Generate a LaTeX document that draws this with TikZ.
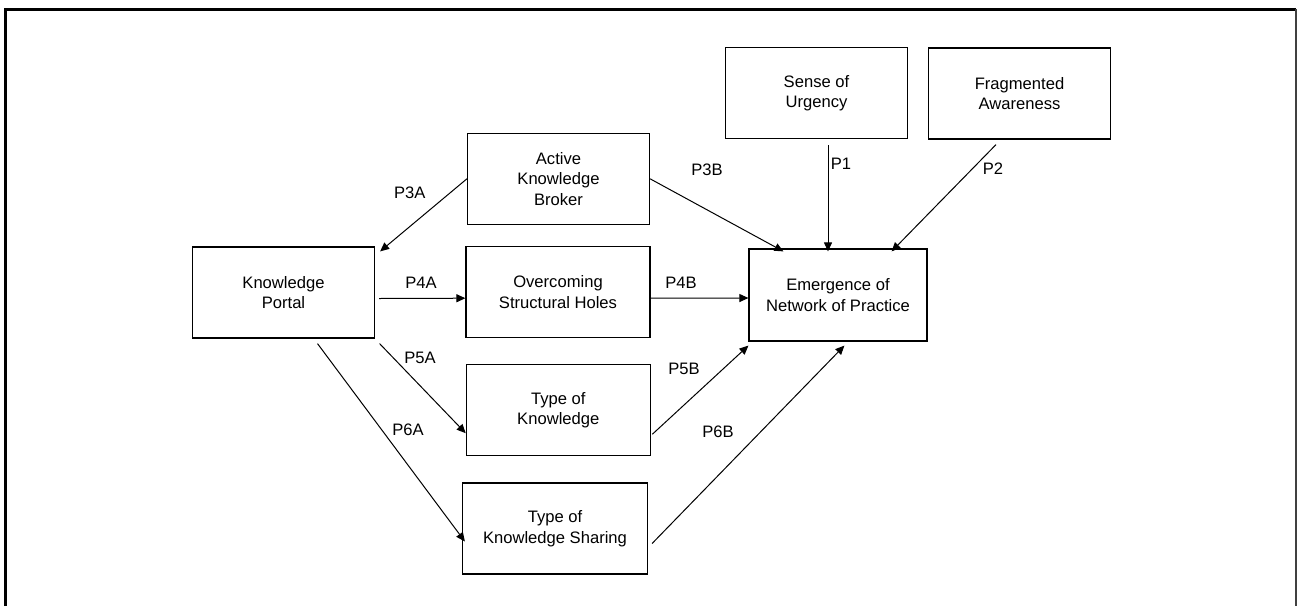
\documentclass[tikz,border=0pt]{standalone}
\usepackage{fontspec}
\setmainfont{Liberation Sans}
\usetikzlibrary{arrows.meta}

\begin{document}
\begin{tikzpicture}[x=0.5pt,y=-0.5pt,
		box/.style={draw, line width=0.6pt, minimum width=91pt, minimum height=45.5pt, align=center, inner sep=0pt, font=\fontsize{8.3}{10.3}\selectfont},
		arr/.style={-{Triangle[length=4.5pt,width=4pt]}, line width=0.5pt},
		plab/.style={font=\fontsize{8.3}{10}\selectfont, inner sep=0pt}]
		\useasboundingbox (0,0) rectangle (1297,606);
		%frame
		\draw[line width=1.8pt] (5.5,606) -- (5.5,9.3) -- (1296,9.3);
		\draw[line width=0.6pt, black!75] (1296,9.3) -- (1296,606);
		%boxes
		\node[box] (kp) at (283.5,292.5) {Knowledge\\Portal};
		\node[box] (akb) at (558.5,178.8) {Active\\Knowledge\\Broker};
		\node[box, minimum width=92pt] (osh) at (558,292.2) {Overcoming\\Structural Holes};
		\node[box, minimum width=92pt] (tok) at (558.3,410.2) {Type of\\Knowledge};
		\node[box, minimum width=92.5pt] (toks) at (555,528.5) {Type of\\Knowledge Sharing};
		\node[box] (sou) at (816.5,93.2) {Sense of\\Urgency};
		\node[box] (fa) at (1019.5,93.5) {Fragmented\\Awareness};
		\node[box, minimum width=89pt, minimum height=46pt] (enp) at (838,295) {Emergence of\\Network of Practice};
		%arrows
		\draw[arr] (akb.west) -- ([shift={(5,5)}]kp.north east);
		\draw[arr] (akb.east) -- ([shift={(35,3)}]enp.north west);
		\draw[arr] ([shift={(11.5,6)}]sou.south) -- ([shift={(-10,3)}]enp.north);
		\draw[arr] ([shift={(-23.5,5)}]fa.south) -- ([shift={(-36,3)}]enp.north east);
		\draw[arr] ([shift={(4,6)}]kp.east) -- ([shift={(0,6)}]osh.west);
		\draw[arr] ([shift={(0,6)}]osh.east) -- ([shift={(0,3)}]enp.west);
		\draw[arr] ([shift={(4.5,5)}]kp.south east) -- ([shift={(0,23)}]tok.west);
		\draw[arr] ([shift={(34,5)}]kp.south) -- ([shift={(3,13)}]toks.west);
		\draw[arr] ([shift={(1.5,24)}]tok.east) -- ([shift={(0,4)}]enp.south west);
		\draw[arr] ([shift={(4,15)}]toks.east) -- ([shift={(96,4)}]enp.south west);
		%labels
		\node[plab] (l3a) at (409.7,192.7) {P3A};
		\node[plab] (l3b) at (707,170) {P3B};
		\node[plab] (l1) at (841,164) {P1};
		\node[plab] (l2) at (993,169) {P2};
		\node[plab] (l4a) at (421,283) {P4A};
		\node[plab] (l4b) at (681,283) {P4B};
		\node[plab] (l5a) at (420,358) {P5A};
		\node[plab] (l5b) at (684,369) {P5B};
		\node[plab] (l6a) at (408,430) {P6A};
		\node[plab] (l6b) at (718,432) {P6B};
\end{tikzpicture}
\end{document}
